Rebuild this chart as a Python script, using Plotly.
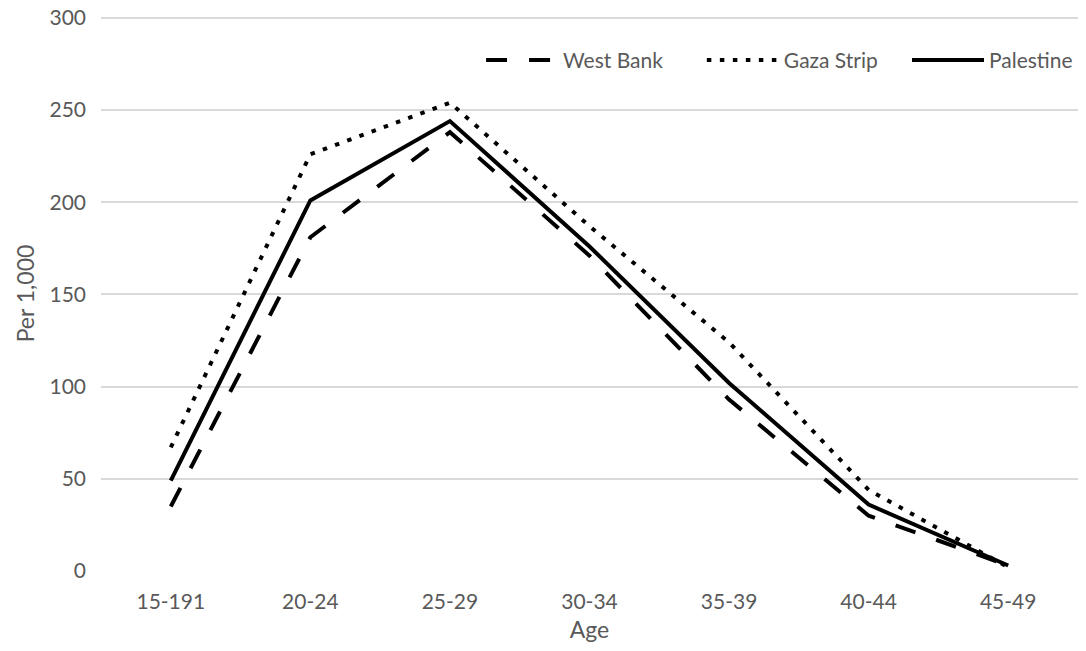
import plotly.graph_objects as go

ages = ["15-191", "20-24", "25-29", "30-34", "35-39", "40-44", "45-49"]
west_bank = [35, 181, 238, 171, 93, 30, 3]
gaza_strip = [67, 226, 254, 187, 124, 44, 2]
palestine = [49, 201, 244, 176, 102, 36, 3]

y_ticks = [0, 50, 100, 150, 200, 250, 300]

FONT = "Lato, 'Open Sans', sans-serif"
GRAY = "#595959"

fig = go.Figure()
fig.add_trace(go.Scatter(x=ages, y=west_bank, name="West Bank", mode="lines", legend="legend",
                         line=dict(color="black", width=4, dash="21px,22px")))
fig.add_trace(go.Scatter(x=ages, y=gaza_strip, name="Gaza Strip", mode="lines", legend="legend2",
                         line=dict(color="black", width=4, dash="4.5px,8.5px")))
fig.add_trace(go.Scatter(x=ages, y=palestine, name="Palestine", mode="lines", legend="legend3",
                         line=dict(color="black", width=4)))

leg_common = dict(orientation="h", y=0.92, yanchor="middle",
                  itemwidth=72, font=dict(size=21, color=GRAY),
                  bgcolor="rgba(0,0,0,0)")

fig.update_layout(
    width=1070, height=635,
    margin=dict(l=93, r=0, t=8, b=72, autoexpand=False),
    plot_bgcolor="white", paper_bgcolor="white",
    font=dict(family=FONT, size=21, color=GRAY),
    showlegend=True,
    legend=dict(x=0.389, xanchor="left", **leg_common),
    legend2=dict(x=0.615, xanchor="left", **leg_common),
    legend3=dict(x=1.0, xanchor="right", **leg_common),
    xaxis=dict(title=dict(text="Age", font=dict(size=23, color=GRAY), standoff=26),
               range=[-0.5, 6.5], showgrid=False, showline=False, zeroline=False,
               ticks="", ticklabelstandoff=16, tickfont=dict(size=21, color=GRAY)),
    yaxis=dict(title=dict(text="Per 1,000", font=dict(size=23, color=GRAY), standoff=8),
               range=[0, 301], tickvals=y_ticks, showgrid=True, gridcolor="#d9d9d9",
               gridwidth=1.5, zeroline=False, showline=False, ticks="",
               ticklabeloverflow="allow",
               ticklabelstandoff=14, tickfont=dict(size=21, color=GRAY)),
)

fig.write_html("out.html")
